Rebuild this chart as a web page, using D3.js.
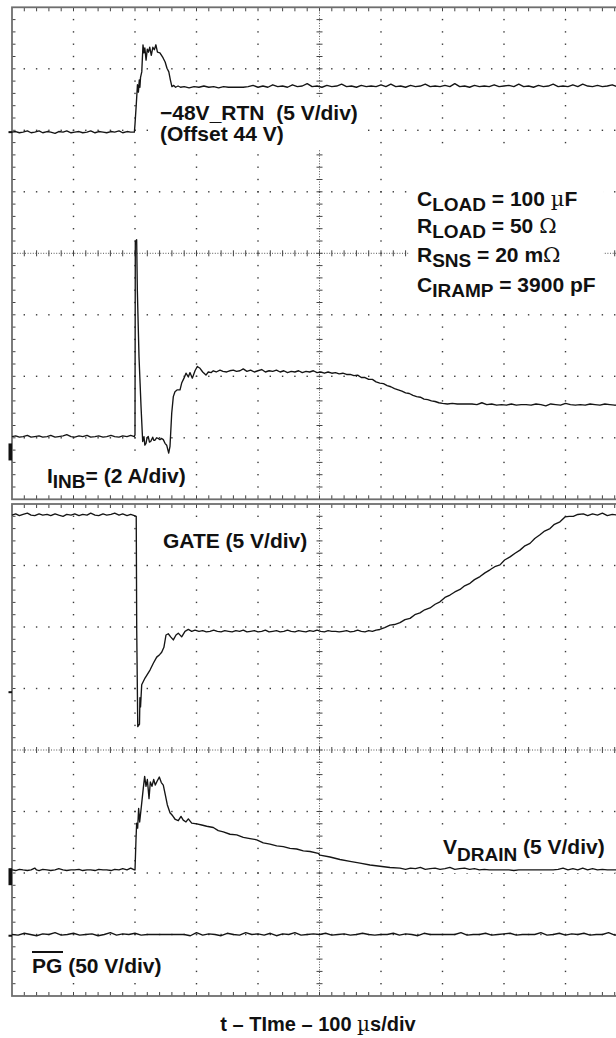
<!DOCTYPE html>
<html><head><meta charset="utf-8">
<script src="https://cdn.jsdelivr.net/npm/d3@7"></script>
<style>
html,body{margin:0;padding:0;background:#fff;}
svg{display:block;}
text{font-family:"Liberation Sans",Arial,Helvetica,sans-serif;font-weight:bold;fill:#111;}
.sym{font-family:"DejaVu Serif","Liberation Serif",serif;font-weight:normal;}
</style></head><body>
<svg id="c" width="616" height="1038"></svg>
<script>
// ---- DATA: time in µs (100 µs/div), level in screen divisions (0..8 per panel) ----
const rtnTrace = [[0,5.97],[6,5.98],[12,5.96],[18,5.97],[25,5.99],[31,5.96],[37,5.97],[44,5.99],[50,5.96],[57,5.98],[63,5.97],[70,5.95],[76,5.98],[83,5.97],[89,5.99],[96,5.96],[102,5.97],[109,5.98],[115,5.96],[122,5.97],[128,5.99],[135,5.96],[141,5.98],[148,5.97],[154,5.96],[161,5.98],[167,5.97],[174,5.99],[180,5.96],[187,5.98],[193,5.97],[199,5.97],
[200,6.10],[202,6.41],[204,6.74],[205.5,6.62],[207,6.82],[208,6.70],[209,6.86],[211,6.95],[213,7.39],[214.5,7.26],[216,7.34],[218,7.14],[220,7.32],[222,7.27],[224,7.35],[226.5,7.22],[229,7.35],[231.5,7.31],[234,7.39],[236.5,7.27],[240.5,7.26],[245.5,7.18],[249,7.11],[252,7.01],[255,6.95],[257.5,6.82],[260,6.71],[263,6.73],[266,6.70],[270,6.72],[274,6.70],
[280,6.71],[288,6.69],[296,6.71],[304,6.70],[312,6.72],[320,6.70],[328,6.71],[336,6.69],[344,6.71],[352,6.70],[360,6.70],[368,6.70],[376,6.70],[384,6.71],[392,6.73],[400,6.70],[408,6.72],[416,6.70],[424,6.74],[432,6.71],[440,6.72],[448,6.70],[456,6.74],[464,6.71],[472,6.72],[480,6.76],[488,6.71],[496,6.72],[504,6.70],[512,6.73],[520,6.71],[528,6.72],[536,6.75],[544,6.71],[552,6.72],[560,6.70],[568,6.73],[576,6.71],[584,6.72],[592,6.71],[600,6.74],[608,6.71],[616,6.75],[624,6.71],[632,6.72],[640,6.70],[648,6.73],[656,6.71],[664,6.72],[672,6.75],[680,6.71],[688,6.72],[696,6.71],[704,6.73],[712,6.71],[720,6.76],[728,6.71],[736,6.72],[744,6.70],[752,6.73],[760,6.71],[768,6.72],[776,6.71],[784,6.74],[792,6.71],[800,6.72],[808,6.73],[816,6.71],[824,6.75],[832,6.71],[840,6.72],[848,6.70],[856,6.73],[864,6.71],[872,6.72],[880,6.75],[888,6.71],[896,6.72],[904,6.71],[912,6.74],[920,6.71],[928,6.75],[936,6.72],[944,6.71],[952,6.73],[960,6.71],[968,6.72],[976,6.74],[984,6.71],[992,6.72],[1000,6.71]];

const iinbTrace = [[0,1.02],[6,1.03],[12,1.01],[18,1.02],[25,1.04],[31,1.01],[37,1.02],[44,1.03],[50,1.01],[57,1.02],[63,1.04],[70,1.01],[76,1.02],[83,1.03],[89,1.05],[96,1.02],[102,1.01],[109,1.03],[115,1.02],[122,1.04],[128,1.01],[135,1.02],[141,1.03],[148,1.01],[154,1.02],[161,1.04],[167,1.02],[174,1.01],[180,1.03],[187,1.02],[193,1.04],[199,1.02],
[200,1.05],[200.5,4.19],[202.7,4.22],[203.8,3.40],[206.5,2.32],[209.8,1.51],[212.5,0.94],[214.6,1.02],[216,0.88],[217.9,0.91],[219.5,1.00],[221.6,1.02],[223.5,0.93],[225.5,0.94],[228.8,1.01],[230.5,0.96],[232.5,0.96],[235,1.00],[237.9,0.99],[240.5,0.97],[243.4,0.99],[246,0.97],[248.8,0.91],[251.5,0.88],[254.8,0.75],[256.9,0.86],[259.7,1.40],[262.3,1.67],[265,1.75],[268.8,1.78],[273.2,1.78],[275.9,1.89],[279.7,1.97],[282.9,2.05],[286.7,1.99],[289.4,2.06],[293.2,1.97],[297.6,2.09],[301.3,2.16],[305.7,2.13],[310.1,2.07],[315.4,2.02],[319.2,2.07],[324,2.06],[327.3,2.09],[332,2.07],[338.2,2.10],[343,2.08],[349.1,2.07],[354,2.09],[359.9,2.10],[365,2.08],[370.7,2.09],[376,2.12],[382,2.08],[388,2.10],[394,2.07],[400,2.09],[406,2.11],[412,2.07],[418,2.09],[424,2.08],[430,2.10],[436,2.07],[442,2.09],[448,2.06],[454,2.08],[460,2.07],[466,2.09],[472,2.06],[478,2.08],[484,2.07],[490,2.09],[496,2.06],[502,2.07],[508,2.05],[514,2.07],[520,2.05],[526,2.06],[532,2.04],[538,2.05],[544,2.03],
[550,2.03],[556,2.01],[562,2.02],[568,1.98],[574,1.98],[580,1.95],[586,1.95],[592,1.91],[598,1.89],[604,1.88],[610,1.85],[616,1.83],[622,1.80],[628,1.78],[634,1.76],[640,1.73],[646,1.72],[652,1.69],[658,1.67],[664,1.66],[670,1.63],[676,1.62],[682,1.60],[688,1.59],[694,1.57],[700,1.56],[708,1.55],[716,1.56],[724,1.55],[732,1.55],[740,1.55],[748,1.55],[756,1.54],[764,1.57],[772,1.54],[780,1.55],[788,1.53],[796,1.54],[804,1.53],[812,1.55],[820,1.53],[828,1.54],[836,1.54],[844,1.53],[852,1.55],[860,1.54],[868,1.52],[876,1.55],[884,1.54],[892,1.53],[900,1.56],[908,1.54],[916,1.53],[924,1.54],[932,1.53],[940,1.55],[948,1.54],[956,1.53],[964,1.55],[972,1.54],[980,1.53],[990,1.54],[1000,1.53]];

const gateTrace = [[0,7.82],[6,7.84],[12,7.81],[18,7.83],[25,7.85],[31,7.82],[37,7.81],[44,7.84],[50,7.82],[57,7.83],[63,7.81],[70,7.84],[76,7.82],[83,7.80],[89,7.83],[96,7.82],[102,7.84],[109,7.81],[115,7.83],[122,7.82],[128,7.85],[135,7.82],[141,7.81],[148,7.84],[154,7.82],[161,7.83],[167,7.85],[174,7.82],[180,7.84],[187,7.81],[193,7.83],[199,7.81],
[202,7.80],[202.8,5.95],[204.5,4.38],[206,4.40],[207.3,4.42],[208,4.85],[209,4.70],[210.9,5.06],[216.3,5.17],[224.4,5.30],[229.8,5.41],[235.3,5.51],[240,5.55],[243.4,5.59],[247,5.67],[250.4,5.87],[254.1,5.89],[258,5.84],[262.3,5.79],[266.7,5.87],[270.4,5.90],[275.9,5.84],[281.3,5.93],[286.7,5.96],[292.2,5.93],[297.6,5.95],
[304,5.93],[310,5.94],[316,5.92],[322,5.93],[328,5.95],[334,5.93],[340,5.92],[346,5.94],[352,5.93],[358,5.92],[364,5.94],[370,5.93],[376,5.95],[382,5.92],[388,5.93],[394,5.94],[400,5.92],[406,5.93],[412,5.95],[418,5.92],[424,5.93],[430,5.94],[436,5.92],[442,5.93],[448,5.95],[454,5.93],[460,5.92],[466,5.94],[472,5.93],[478,5.92],[484,5.94],[490,5.93],[496,5.95],[502,5.93],[508,5.92],[514,5.94],[520,5.93],[526,5.93],[532,5.92],[538,5.93],[544,5.94],[550,5.92],[556,5.93],[562,5.95],[568,5.93],[574,5.92],[580,5.94],[586,5.93],[592,5.95],[598,5.96],
[606,5.99],[614.6,6.03],[622,6.04],[630.9,6.07],[639,6.12],[647.2,6.14],[655,6.20],[663.4,6.23],[671,6.28],[679.7,6.31],[688,6.37],[695.9,6.41],[704,6.48],[712.2,6.52],[720,6.57],[728.5,6.61],[736,6.67],[744.7,6.71],[752,6.77],[761,6.82],[769,6.88],[777.2,6.93],[785,6.98],[793.5,7.01],[801,7.09],[809.8,7.14],[818,7.20],[826,7.25],[834,7.32],[842.3,7.36],[850,7.44],[858.5,7.50],[866,7.56],[874.8,7.60],[882,7.67],[891,7.71],[899.2,7.79],[906,7.80],[912.7,7.80],[920,7.83],[929,7.84],[936,7.81],[944,7.84],[952,7.82],[960,7.85],[968,7.81],[976,7.83],[984,7.82],[992,7.84],[1000,7.82]];

const vdrainTrace = [[0,2.05],[6,2.04],[12,2.06],[18,2.05],[25,2.04],[31,2.05],[37,2.08],[40,2.05],[44,2.04],[50,2.06],[57,2.05],[63,2.04],[70,2.05],[76,2.07],[83,2.05],[89,2.04],[96,2.05],[102,2.05],[109,2.06],[115,2.04],[122,2.05],[128,2.05],[135,2.04],[141,2.06],[148,2.05],[154,2.05],[161,2.04],[167,2.06],[174,2.05],[180,2.07],[187,2.05],[193,2.08],[199,2.05],
[200,2.05],[201.6,2.54],[202.7,2.81],[204.3,2.73],[205.9,3.05],[207.6,2.83],[210.3,3.08],[213.5,3.38],[215.7,3.57],[217.9,3.41],[220.1,3.52],[222.8,3.21],[224.9,3.48],[227.6,3.41],[230.4,3.52],[233,3.43],[236.3,3.50],[239.5,3.56],[242.8,3.47],[246,3.43],[249.3,3.27],[252.5,3.11],[256.9,2.98],[261.3,2.93],[265.5,2.87],[270.4,2.85],[274.8,2.92],[278.5,2.86],[282.9,2.83],[286.7,2.88],[292.2,2.81],[300.3,2.80],[308.5,2.78],[316.6,2.76],[327.3,2.74],[335.4,2.69],[343.6,2.67],[354.5,2.63],[365.4,2.62],[376.1,2.58],[387,2.56],[397.9,2.54],[408.6,2.49],[419.5,2.47],[430.4,2.44],[441.1,2.43],[452,2.40],[462.9,2.39],[473.7,2.36],[484.6,2.35],[498,2.32],[500.8,2.29],[517.1,2.26],[533.3,2.22],[549.6,2.19],[565.9,2.16],[582.1,2.13],[598.4,2.11],[614.6,2.09],[630.9,2.08],
[640,2.06],[648,2.08],[656,2.07],[664,2.09],[672,2.06],[680,2.07],[688,2.08],[696,2.06],[704,2.07],[712,2.09],[720,2.06],[728,2.07],[736,2.08],[744,2.06],[752,2.07],[760,2.05],[768,2.06],[776,2.05],[784,2.05],[792,2.05],[800,2.05],[808,2.05],[816,2.04],[824,2.05],[832,2.05],[840,2.05],[848,2.05],[856,2.05],[864,2.05],[872,2.05],[880,2.05],[888,2.06],[896,2.08],[904,2.05],[912,2.07],[920,2.05],[928,2.08],[936,2.05],[944,2.07],[952,2.05],[960,2.06],[968,2.05],[976,2.05],[984,2.05],[992,2.05],[1000,2.05]];

const pgTrace = [[0,1.00],[10,0.99],[20,1.02],[30,1.00],[40,0.98],[50,1.01],[60,1.00],[70,1.03],[80,0.99],[90,1.00],[100,1.02],[110,0.99],[120,1.00],[130,1.01],[140,0.98],[150,1.00],[160,1.03],[170,0.99],[180,1.01],[190,1.00],[200,1.02],[210,0.99],[220,1.00],[230,1.00],[240,1.00],[250,1.00],[260,1.00],[270,1.00],[280,1.00],[290,0.98],[300,1.03],[310,0.99],[320,1.01],[330,1.00],[340,0.98],[350,1.02],[360,1.00],[370,0.99],[380,1.03],[390,1.00],[400,1.01],[410,0.99],[420,1.02],[430,0.98],[440,1.01],[450,1.00],[460,1.03],[470,0.99],[480,1.00],[490,1.01],[500,1.00],[510,1.02],[520,0.99],[530,1.00],[540,1.01],[550,0.99],[560,1.00],[570,1.02],[580,1.00],[590,0.99],[600,1.00],[610,1.00],[620,1.02],[630,0.99],[640,1.01],[650,1.00],[660,0.98],[670,1.02],[680,1.00],[690,1.00],[700,1.00],[710,1.00],[720,1.00],[730,1.03],[740,0.99],[750,1.00],[760,1.00],[770,1.02],[780,0.99],[790,1.00],[800,1.01],[810,1.02],[820,0.99],[830,1.00],[840,1.00],[850,1.00],[860,1.03],[870,0.99],[880,1.00],[890,1.02],[900,0.99],[910,1.01],[920,1.00],[930,1.02],[940,0.99],[950,1.00],[960,1.00],[970,1.03],[980,0.99],[990,1.00],[1000,1.00]];

// channel ground-reference markers (level in div, height)
const topMarkers = [[5.97, 2], [0.77, 17]];
const botMarkers = [[4.94, 2], [1.94, 17], [0.98, 2]];

const timeDivs = d3.range(0, 11);   // major time divisions
const levelDivs = d3.range(0, 9);   // major level divisions
const axisTitle = "t – TIme – 100 ";

// ---- LAYOUT ----
const svg = d3.select("#c");
const x = d3.scaleLinear().domain([0, 1000]).range([12, 627]);
const yTop = d3.scaleLinear().domain([0, 8]).range([499.3, 7.3]);
const yBot = d3.scaleLinear().domain([0, 8]).range([996, 504]);

const gridLayer = svg.append("g");
const bgLayer = svg.append("g");
const traceLayer = svg.append("g");
const textLayer = svg.append("g");

const minorT = d3.range(1, 50).map(i => i * 20);
const minorL = d3.range(1, 40).map(i => i / 5);

function drawPanel(y, markers) {
  const g = gridLayer.append("g");
  const dot = "#3a3a3a";
  timeDivs.filter(d => d > 0 && d < 10 && d !== 5).forEach(d => {
    g.append("g").selectAll("rect").data(minorL).join("rect")
      .attr("x", x(d * 100) - 0.7).attr("y", v => y(v) - 0.7)
      .attr("width", 1.4).attr("height", 1.4).attr("fill", dot);
  });
  levelDivs.filter(d => d > 0 && d < 8 && d !== 4).forEach(d => {
    g.append("g").selectAll("rect").data(minorT).join("rect")
      .attr("x", t => x(t) - 0.7).attr("y", y(d) - 0.7)
      .attr("width", 1.4).attr("height", 1.4).attr("fill", dot);
  });
  g.append("line").attr("x1", x(500)).attr("x2", x(500)).attr("y1", y(8)).attr("y2", y(0))
    .attr("stroke", "#555").attr("stroke-width", 1).attr("stroke-dasharray", "1,1.6");
  g.append("line").attr("x1", x(0)).attr("x2", x(1000)).attr("y1", y(4)).attr("y2", y(4))
    .attr("stroke", "#555").attr("stroke-width", 1).attr("stroke-dasharray", "1,1.6");
  g.append("g").selectAll("line").data(minorL).join("line")
    .attr("x1", x(500) - 3).attr("x2", x(500) + 3).attr("y1", v => y(v)).attr("y2", v => y(v))
    .attr("stroke", "#444").attr("stroke-width", 1);
  g.append("g").selectAll("line").data(minorT).join("line")
    .attr("x1", t => x(t)).attr("x2", t => x(t)).attr("y1", y(4) - 3).attr("y2", y(4) + 3)
    .attr("stroke", "#444").attr("stroke-width", 1);
  g.append("g").selectAll("line").data(minorT).join("line")
    .attr("x1", t => x(t)).attr("x2", t => x(t)).attr("y1", y(8)).attr("y2", y(8) + 4)
    .attr("stroke", "#444").attr("stroke-width", 1);
  g.append("g").selectAll("line").data(minorT).join("line")
    .attr("x1", t => x(t)).attr("x2", t => x(t)).attr("y1", y(0)).attr("y2", y(0) - 4)
    .attr("stroke", "#444").attr("stroke-width", 1);
  g.append("g").selectAll("line").data(minorL).join("line")
    .attr("x1", x(0)).attr("x2", x(0) + 3.5).attr("y1", v => y(v)).attr("y2", v => y(v))
    .attr("stroke", "#444").attr("stroke-width", 1);
  g.append("rect").attr("x", x(0)).attr("y", y(8)).attr("width", x(1000) - x(0)).attr("height", y(0) - y(8))
    .attr("fill", "none").attr("stroke", "#6e6e6e").attr("stroke-width", 1.8);
  g.append("g").selectAll("rect").data(markers).join("rect")
    .attr("x", 8.5).attr("width", 3.5).attr("y", m => y(m[0]) - m[1] / 2).attr("height", m => m[1])
    .attr("fill", "#111");
}
drawPanel(yTop, topMarkers);
drawPanel(yBot, botMarkers);

function trace(data, y) {
  traceLayer.append("path").datum(data)
    .attr("d", d3.line().x(d => x(d[0])).y(d => y(d[1])))
    .attr("fill", "none").attr("stroke", "#151515").attr("stroke-width", 1.35).attr("stroke-linejoin", "round");
}

// ---- TEXT ----
function rich(xp, yp, size, parts, anchor) {
  const t = textLayer.append("text").attr("x", xp).attr("y", yp).attr("font-size", size)
    .style("white-space", "pre");
  if (anchor) t.attr("text-anchor", anchor);
  let cur = 0;
  parts.forEach(p => {
    const dy = (p.dy || 0);
    const s = t.append("tspan").attr("dy", dy - cur).text(p.t);
    cur = dy;
    if (p.size) s.attr("font-size", p.size);
    if (p.sym) s.attr("class", "sym");
  });
  return t;
}
function box(nodes, pad) {
  const bbs = nodes.map(n => n.node().getBBox());
  const x0 = d3.min(bbs, b => b.x) - pad[3], x1 = d3.max(bbs, b => b.x + b.width) + pad[1];
  const y0 = d3.min(bbs, b => b.y) - pad[0], y1 = d3.max(bbs, b => b.y + b.height) + pad[2];
  bgLayer.append("rect").attr("x", x0).attr("y", y0).attr("width", x1 - x0).attr("height", y1 - y0).attr("fill", "#fff");
}

const F = 21, S = 19;
const t1 = rich(160, 120, F, [{t: "−48V_RTN  (5 V/div)"}]);
const t2 = rich(160, 141, F, [{t: "(Offset 44 V)"}]);
box([t1, t2], [4, 10, 4, 12]);

const c1 = rich(417, 206, F, [{t: "C"}, {t: "LOAD", dy: 5, size: S}, {t: " = 100 "}, {t: "µ", sym: true}, {t: "F"}]);
const c2 = rich(417, 233, F, [{t: "R"}, {t: "LOAD", dy: 5, size: S}, {t: " = 50 "}, {t: "Ω", sym: true}]);
const c3 = rich(417, 262, F, [{t: "R"}, {t: "SNS", dy: 5, size: S}, {t: " = 20 m"}, {t: "Ω", sym: true}]);
const c4 = rich(417, 292, F, [{t: "C"}, {t: "IRAMP", dy: 5, size: S}, {t: " = 3900 pF"}]);
box([c1, c2, c3, c4], [40, 8, 4, 8]);

const i1 = rich(47, 483, F, [{t: "I"}, {t: "INB", dy: 5, size: S}, {t: "= (2 A/div)"}]);
box([i1], [4, 6, 3, 6]);

const g1 = rich(163, 548, F, [{t: "GATE (5 V/div)"}]);
box([g1], [6, 6, 6, 6]);

const v1 = rich(443, 854, F, [{t: "V"}, {t: "DRAIN", dy: 7, size: S}, {t: " (5 V/div)"}]);
box([v1], [5, 10, 8, 6]);

const p1 = rich(32, 973, F, [{t: "PG (50 V/div)"}]);
box([p1], [8, 6, 4, 6]);
textLayer.append("line").attr("x1", 32).attr("x2", 63).attr("y1", 952).attr("y2", 952)
  .attr("stroke", "#111").attr("stroke-width", 2);

rich(318, 1031, 20, [{t: axisTitle}, {t: "µ", sym: true}, {t: "s/div"}], "middle");

trace(rtnTrace, yTop);
trace(iinbTrace, yTop);
trace(gateTrace, yBot);
trace(vdrainTrace, yBot);
trace(pgTrace, yBot);
</script></body></html>
